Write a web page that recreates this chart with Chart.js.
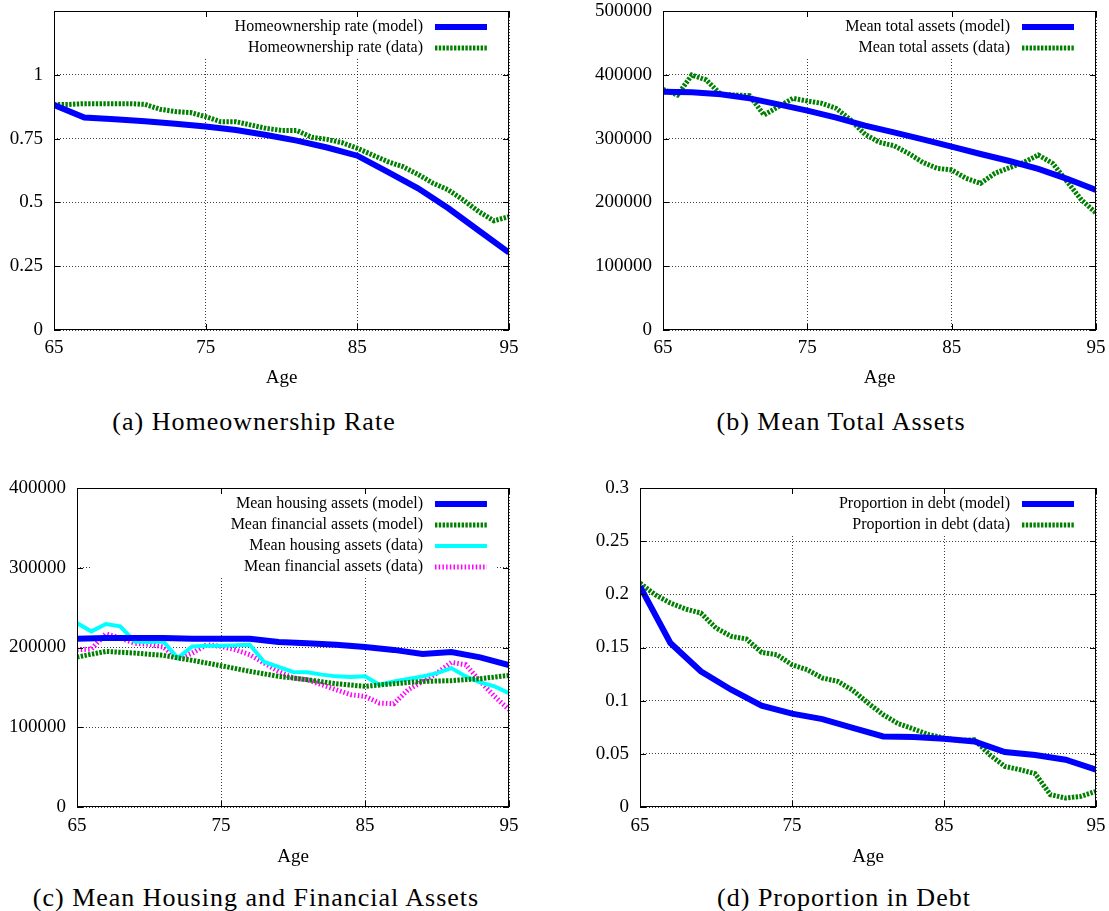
<!DOCTYPE html>
<html>
<head>
<meta charset="utf-8">
<script src="https://cdn.jsdelivr.net/npm/chart.js@4.4.1/dist/chart.umd.min.js"></script>
<style>
  body { margin: 0; background: #fff; }
  #page { position: relative; width: 1109px; height: 911px; overflow: hidden; background: #fff; }
  canvas { position: absolute; }
  .caption {
    position: absolute; width: 600px; text-align: center; white-space: nowrap;
    font-family: 'Liberation Serif', 'Times New Roman', serif; font-size: 26px;
    line-height: 26px; letter-spacing: 1px; color: #000;
  }
</style>
</head>
<body>
<div id="page">
  <canvas id="chartHome" width="530" height="400" style="left:0;top:0"></canvas>
  <canvas id="chartTotal" width="549" height="400" style="left:560px;top:0"></canvas>
  <canvas id="chartSplit" width="530" height="400" style="left:0;top:470px"></canvas>
  <canvas id="chartDebt" width="549" height="400" style="left:560px;top:470px"></canvas>
  <div class="caption" style="left:-46px;top:409px">(a) Homeownership Rate</div>
  <div class="caption" style="left:541px;top:409px">(b) Mean Total Assets</div>
  <div class="caption" style="left:-44px;top:885px">(c) Mean Housing and Financial Assets</div>
  <div class="caption" style="left:544px;top:885px">(d) Proportion in Debt</div>
</div>
<script>
// ages: model solved every two years, survey data every year
const modelAges = [65, 67, 69, 71, 73, 75, 77, 79, 81, 83, 85, 87, 89, 91, 93, 95];
const dataAges = [65, 66, 67, 68, 69, 70, 71, 72, 73, 74, 75, 76, 77, 78, 79, 80,
  81, 82, 83, 84, 85, 86, 87, 88, 89, 90, 91, 92, 93, 94, 95];
const ageTicks = [65, 75, 85, 95];

const homeTicks = [0, 0.25, 0.5, 0.75, 1];
const homeModel = [0.882, 0.833, 0.826, 0.818, 0.808, 0.797, 0.784, 0.764, 0.742, 0.715,
  0.683, 0.620, 0.555, 0.477, 0.390, 0.303];
const homeData = [0.884, 0.884, 0.887, 0.887, 0.887, 0.887, 0.884, 0.865, 0.856, 0.852,
  0.836, 0.816, 0.816, 0.803, 0.790, 0.782, 0.782, 0.755, 0.747, 0.734, 0.712, 0.686,
  0.660, 0.640, 0.610, 0.575, 0.549, 0.509, 0.464, 0.428, 0.444];

const totalTicks = [0, 100000, 200000, 300000, 400000, 500000];
const totalModel = [373600, 372500, 369400, 363100, 353700, 343800, 332800, 320300, 309800,
  298900, 287400, 275900, 264900, 252400, 237000, 219400];
const totalData = [377200, 368300, 399700, 391900, 369400, 368300, 367300, 337000, 350000,
  363100, 358900, 355300, 347400, 329200, 306700, 294100, 288900, 276900, 262800, 253400,
  250800, 237700, 229900, 245600, 254400, 262800, 274300, 261200, 232500, 203800, 183400];

const splitTicks = [0, 100000, 200000, 300000, 400000];
const housingModel = [211000, 211900, 211900, 211900, 211000, 211000, 211000, 206900, 205200,
  203500, 200600, 197000, 191800, 194300, 187600, 177800];
const financialModel = [188000, 195100, 193000, 190100, 183900, 177200, 170100, 163800, 159600,
  154600, 151300, 154600, 157500, 158400, 160900, 165000];
const housingData = [230600, 220200, 229400, 226500, 207600, 206900, 207600, 186800, 201400,
  202300, 202300, 202700, 203500, 181800, 175600, 169300, 168900, 166000, 163800, 163000,
  163800, 153300, 157500, 160500, 163800, 167900, 174200, 163800, 156200, 151200, 142800];
const financialData = [197200, 198000, 217300, 211900, 205300, 204000, 200600, 185500, 193000,
  203500, 201400, 197200, 190900, 180500, 170100, 161700, 159600, 153300, 147100, 140800,
  138700, 130300, 129500, 147100, 157500, 167900, 181300, 178400, 157500, 138700, 122000];

const debtTicks = [0, 0.05, 0.1, 0.15, 0.2, 0.25, 0.3];
const debtModel = [0.2075, 0.1542, 0.1276, 0.1103, 0.0953, 0.0878, 0.0827, 0.0743, 0.0664,
  0.0658, 0.0642, 0.0617, 0.0517, 0.0489, 0.0445, 0.0351];
const debtData = [0.2106, 0.1996, 0.1918, 0.1862, 0.1824, 0.1683, 0.1605, 0.1580, 0.1454,
  0.1432, 0.1338, 0.1291, 0.1213, 0.1182, 0.1097, 0.0978, 0.0868, 0.0783, 0.0733, 0.0680,
  0.0649, 0.0624, 0.0633, 0.0492, 0.0382, 0.0351, 0.0313, 0.0116, 0.0084, 0.0100, 0.0147];

const SERIF = "'Liberation Serif', 'Times New Roman', serif";
Chart.defaults.font.family = SERIF;
Chart.defaults.font.size = 19;
Chart.defaults.color = '#000';

const GRID = 'rgba(0,0,0,0.75)';

// line styles in the old gnuplot look
const styles = {
  blue: { borderColor: '#0000ff', borderWidth: 6, borderDash: [] },
  green: { borderColor: '#008000', borderWidth: 5, borderDash: [2.4, 1.4] },
  cyan: { borderColor: '#00ffff', borderWidth: 4, borderDash: [] },
  magenta: { borderColor: '#ff00ff', borderWidth: 5, borderDash: [1.5, 2.2] }
};

function serie(label, ages, vals, style) {
  return {
    label,
    data: ages.map((a, i) => ({ x: a, y: vals[i] })),
    ...styles[style],
    pointRadius: 0,
    tension: 0,
    fill: false,
    clip: 0
  };
}

// frame, inward tick marks, blanked key area and the key itself
const gnuFrame = {
  id: 'gnuFrame',
  beforeDatasetsDraw(chart) {
    const a = chart.chartArea;
    const ctx = chart.ctx;
    const ds = chart.data.datasets;
    const maxChars = Math.max(...ds.map(d => d.label.length));
    const right = a.right - 12;
    const w = (maxChars + 8) * 11;
    const bottom = a.top + 16 + 21 * (ds.length - 1) + 11;
    ctx.save();
    ctx.fillStyle = '#fff';
    ctx.fillRect(right - w, a.top + 1, w, bottom - a.top - 1);
    ctx.restore();
  },
  afterDatasetsDraw(chart) {
    const a = chart.chartArea;
    const ctx = chart.ctx;
    const xs = chart.scales.x, ys = chart.scales.y;
    ctx.save();
    ctx.strokeStyle = '#000';
    ctx.lineWidth = 1;
    ctx.setLineDash([]);
    ctx.beginPath();
    xs.ticks.forEach(t => {
      const px = Math.round(xs.getPixelForValue(t.value)) + 0.5;
      ctx.moveTo(px, a.top); ctx.lineTo(px, a.top + 6);
      ctx.moveTo(px, a.bottom); ctx.lineTo(px, a.bottom - 6);
    });
    ys.ticks.forEach(t => {
      const py = Math.round(ys.getPixelForValue(t.value)) + 0.5;
      ctx.moveTo(a.left, py); ctx.lineTo(a.left + 6, py);
      ctx.moveTo(a.right, py); ctx.lineTo(a.right - 6, py);
    });
    ctx.stroke();
    ctx.strokeRect(a.left + 0.5, a.top + 0.5, a.right - a.left - 1, a.bottom - a.top - 1);

    ctx.font = '16px ' + SERIF;
    ctx.textAlign = 'right';
    ctx.textBaseline = 'middle';
    ctx.fillStyle = '#000';
    chart.data.datasets.forEach((d, i) => {
      const y = a.top + 16 + 21 * i;
      ctx.fillText(d.label, a.right - 86, y);
      ctx.save();
      ctx.strokeStyle = d.borderColor;
      ctx.lineWidth = d.borderWidth;
      ctx.setLineDash(d.borderDash || []);
      ctx.beginPath();
      ctx.moveTo(a.right - 74, y);
      ctx.lineTo(a.right - 22, y);
      ctx.stroke();
      ctx.restore();
    });
    ctx.restore();
  }
};

// p: canvas box on the page, area: plot rectangle on the page
function makePanel(id, p, area, yTicks, yMax, tickPad, titleY, datasets) {
  const titleLine = 19 * 1.2;
  const xHeight = p.top + p.h - area.bottom;
  return new Chart(document.getElementById(id), {
    type: 'line',
    data: { datasets },
    options: {
      responsive: false,
      animation: false,
      devicePixelRatio: 1,
      layout: { padding: { top: area.top - p.top, right: p.left + p.w - area.right, left: 0, bottom: 0 } },
      plugins: { legend: { display: false }, tooltip: { enabled: false } },
      scales: {
        x: {
          type: 'linear', min: 65, max: 95,
          afterBuildTicks: s => { s.ticks = ageTicks.map(v => ({ value: v })); },
          afterFit: s => { s.height = xHeight; s.paddingLeft = 0; s.paddingRight = 0; },
          grid: { color: GRID, lineWidth: 1, drawTicks: false },
          border: { display: false, dash: [1, 2] },
          ticks: { padding: tickPad, maxRotation: 0, autoSkip: false, callback: v => String(v) },
          title: {
            display: true, text: 'Age',
            padding: { top: 0, bottom: p.top + p.h - titleY - titleLine / 2 }
          }
        },
        y: {
          min: 0, max: yMax,
          afterBuildTicks: s => { s.ticks = yTicks.map(v => ({ value: v })); },
          afterFit: s => { s.width = area.left - p.left; s.paddingTop = 0; s.paddingBottom = 0; },
          grid: { color: GRID, lineWidth: 1, drawTicks: false },
          border: { display: false, dash: [1, 2] },
          ticks: { padding: 11, autoSkip: false, callback: v => String(v) }
        }
      }
    },
    plugins: [gnuFrame]
  });
}

makePanel('chartHome', { left: 0, top: 0, w: 530, h: 400 },
  { left: 54, top: 11, right: 509, bottom: 330 }, homeTicks, 1.25, 7, 378, [
    serie('Homeownership rate (model)', modelAges, homeModel, 'blue'),
    serie('Homeownership rate (data)', dataAges, homeData, 'green')
  ]);

makePanel('chartTotal', { left: 560, top: 0, w: 549, h: 400 },
  { left: 663, top: 11, right: 1096, bottom: 330 }, totalTicks, 500000, 7, 378, [
    serie('Mean total assets (model)', modelAges, totalModel, 'blue'),
    serie('Mean total assets (data)', dataAges, totalData, 'green')
  ]);

makePanel('chartSplit', { left: 0, top: 470, w: 530, h: 400 },
  { left: 77, top: 488, right: 509, bottom: 807 }, splitTicks, 400000, 8, 857, [
    serie('Mean housing assets (model)', modelAges, housingModel, 'blue'),
    serie('Mean financial assets (model)', modelAges, financialModel, 'green'),
    serie('Mean housing assets (data)', dataAges, housingData, 'cyan'),
    serie('Mean financial assets (data)', dataAges, financialData, 'magenta')
  ]);

makePanel('chartDebt', { left: 560, top: 470, w: 549, h: 400 },
  { left: 640, top: 488, right: 1096, bottom: 807 }, debtTicks, 0.3, 8, 857, [
    serie('Proportion in debt (model)', modelAges, debtModel, 'blue'),
    serie('Proportion in debt (data)', dataAges, debtData, 'green')
  ]);
</script>
</body>
</html>
